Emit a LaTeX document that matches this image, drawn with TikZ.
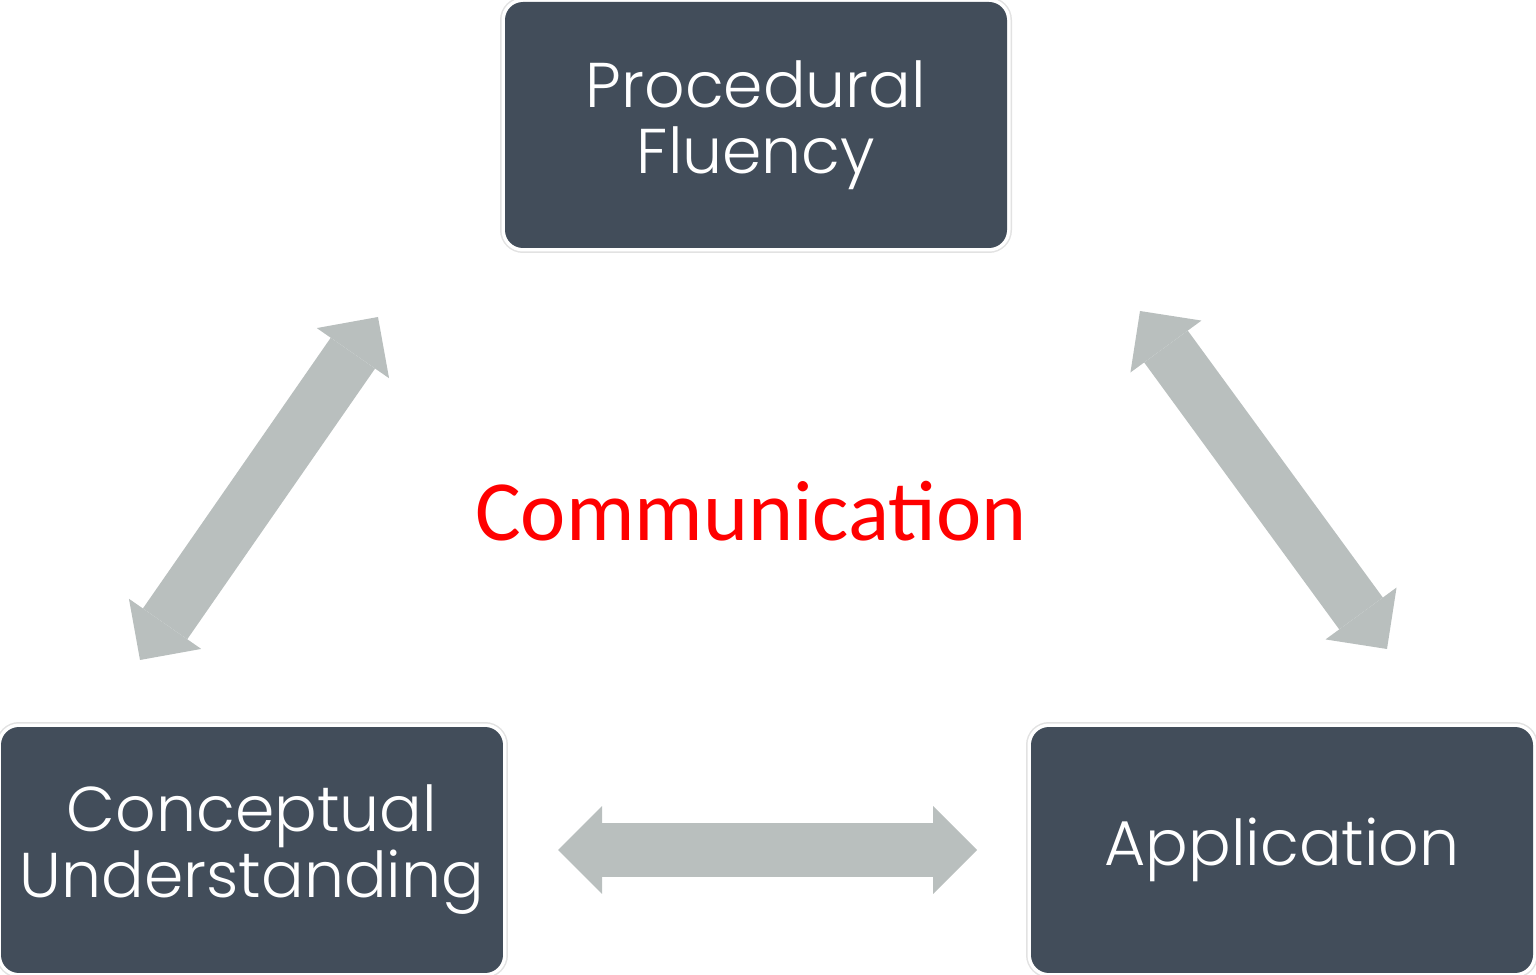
\documentclass[tikz,border=0pt]{standalone}
\usepackage{fontspec}
\usetikzlibrary{arrows.meta}
\newfontfamily\boxfont{Poppins Light}
\newfontfamily\midfont{Carlito}
\definecolor{slate}{RGB}{66,77,90}
\definecolor{arrowgray}{RGB}{185,191,190}
\definecolor{halo}{RGB}{226,226,226}
\begin{document}
\begin{tikzpicture}[x=0.1mm,y=-0.1mm]
	\def\bw{50.2mm}
	\def\bh{24.6mm}
	\tikzstyle{block} = [rectangle, rounded corners=1.8mm, fill=slate, text=white, minimum width=\bw, minimum height=\bh, align=center, inner sep=0pt, preaction={draw=halo, line width=1.0mm}, preaction={draw=white, line width=0.7mm}, font=\boxfont\fontsize{18pt}{18.8pt}\selectfont];
	\tikzstyle{twoway} = [draw=arrowgray, line width=5.4mm, >={Triangle[length=4.4mm,width=8.8mm,line width=0pt]}, <->];
	\useasboundingbox (0,0) rectangle (1536,975);
	% the three blocks
	\node[block] (pf) at (756,125) {Procedural\\Fluency};
	\node[block] (cu) at (252,850) {Conceptual\\Understanding};
	\node[block] (app) at (1282,850) {Application};
	% arrow ends
	\coordinate (cuTop) at (140,660);
	\coordinate (pfLeft) at (378,317);
	\coordinate (pfRight) at (1140,311);
	\coordinate (appTop) at (1387,649);
	\coordinate (cuRight) at (558,850);
	\coordinate (appLeft) at (977,850);
	\foreach \a/\b in {cuTop/pfLeft, pfRight/appTop, cuRight/appLeft}
	{
		\draw[twoway] (\a) -- (\b);
	}
	\node[text=red, anchor=base, font=\midfont\fontsize{24.4pt}{27pt}\selectfont] (comm) at (751,540) {Communication};
\end{tikzpicture}
\end{document}
